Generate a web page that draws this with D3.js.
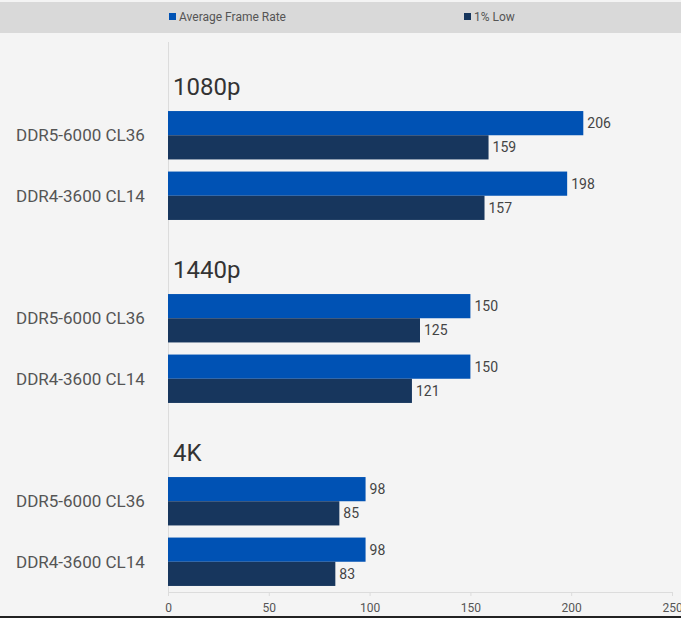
<!DOCTYPE html>
<meta charset="utf-8">
<title>DDR5 vs DDR4</title>
<script src="https://cdn.jsdelivr.net/npm/d3@7"></script>
<style>
    body { margin: 0; background: #f4f4f4; }
    svg { display: block; font-family: Roboto, "Noto Sans", sans-serif; }
</style>
<body>
<svg id="chart" width="681" height="618"></svg>
<script>
    // data
    var groups = ["1080p", "1440p", "4K"];
    var kits = ["DDR5-6000 CL36", "DDR4-3600 CL14"];
    var seriesNames = ["Average Frame Rate", "1% Low"];
    var avgFps = [206, 198, 150, 150, 98, 98];
    var lowFps = [159, 157, 125, 121, 85, 83];
    var ticks = [0, 50, 100, 150, 200, 250];
    var colors = ["#0052b4", "#17365d"];

    var svg = d3.select("#chart");

    // legend band
    svg.append("rect").attr("x", 0).attr("y", 2).attr("width", 681).attr("height", 31).attr("fill", "#d9d9d9");
    var legX = [169, 464];
    seriesNames.forEach(function (n, i) {
        svg.append("rect").attr("x", legX[i]).attr("y", 13).attr("width", 7).attr("height", 7).attr("fill", colors[i]);
        svg.append("text").attr("x", legX[i] + 10).attr("y", 20.5).attr("font-size", 12)
            .attr("fill", "#555").text(n);
    });

    var x = d3.scaleLinear().domain([0, 250]).range([168, 672]);

    // group band and row band
    var groupY = d3.scaleBand().domain(groups).range([50, 599]).paddingInner(0);
    var rowY = d3.scaleBand().domain(kits).range([55, 176]).paddingInner(0.2).paddingOuter(0.1);

    // axes lines
    svg.append("line").attr("x1", 168.5).attr("x2", 168.5).attr("y1", 42).attr("y2", 596)
        .attr("stroke", "#dcdcdc");

    var xAxis = d3.axisBottom(x).tickValues(ticks).tickSize(4).tickPadding(7);
    var ax = svg.append("g").attr("transform", "translate(0,592)").call(xAxis);
    ax.select(".domain").attr("stroke", "#dcdcdc");
    ax.selectAll(".tick line").attr("stroke", "#dcdcdc");
    ax.selectAll(".tick text").attr("fill", "#555").attr("font-size", 12).attr("font-family", "Roboto, sans-serif");

    groups.forEach(function (g, gi) {
        var gy = groupY(g);
        svg.append("text").attr("x", 173).attr("y", gy + 45).attr("font-size", 24)
            .attr("fill", "#333").text(g);
        kits.forEach(function (k, ki) {
            var idx = gi * 2 + ki;
            var ry = gy + rowY(k);
            var bh = rowY.bandwidth() / 2;
            var vals = [avgFps[idx], lowFps[idx]];
            svg.append("text").attr("x", 16).attr("y", ry + bh + 6).attr("font-size", 17)
                .attr("fill", "#555").text(k);
            vals.forEach(function (v, si) {
                svg.append("rect").attr("x", x(0)).attr("y", ry + si * bh)
                    .attr("width", x(v) - x(0)).attr("height", bh).attr("fill", colors[si]);
                svg.append("text").attr("x", x(v) + 4).attr("y", ry + si * bh + bh / 2 + 5)
                    .attr("font-size", 14).attr("fill", "#444").text(v);
            });
        });
    });

    // dark strip at the bottom edge
    svg.append("rect").attr("x", 0).attr("y", 616).attr("width", 681).attr("height", 2).attr("fill", "#222");
</script>
</body>
